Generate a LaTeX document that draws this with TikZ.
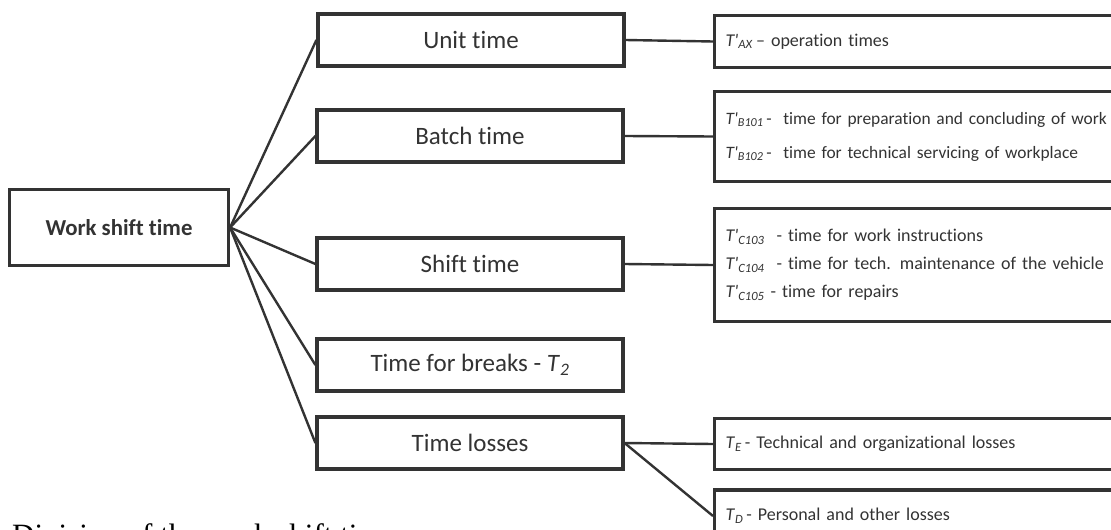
\documentclass[tikz,border=0pt]{standalone}
\usepackage{fontspec}
\setmainfont{Liberation Serif}
\newfontfamily\cf{Carlito}[Ligatures=NoCommon]
\definecolor{ink}{HTML}{333333}
\newcommand{\Tp}[1]{\textit{T'}\textsubscript{\textit{#1}}}
\newcommand{\Ts}[1]{\textit{T}\textsubscript{\textit{#1}}}
\begin{document}
\begin{tikzpicture}[x=1pt,y=-1pt,
  box/.style={draw=ink, line width=3.2pt, fill=white, inner sep=0pt, text=ink},
  mid/.style={box, minimum width=306pt, minimum height=52pt,
    font=\cf\fontsize{25}{29}\selectfont},
  leaf/.style={box, anchor=west, text width=400pt, align=left,
    inner xsep=11pt, font=\cf\fontsize{18}{28}\selectfont},
  link/.style={draw=ink, line width=2.4pt}]
\useasboundingbox (0,0) rectangle (1111,530);
\clip (0,0) rectangle (1111,530);

% root of the breakdown
\node[box, minimum width=219pt, minimum height=76pt,
  font=\cf\bfseries\fontsize{22.8}{27}\selectfont] (root) at (119,227.5) {Work shift time};

% components of the shift
\node[mid] (unit)   at (471,40)  {Unit time};
\node[mid] (batch)  at (470,136) {Batch time};
\node[mid] (shift)  at (470,264) {Shift time};
\node[mid] (breaks) at (470,365) {Time for breaks - \Ts{2}};
\node[mid] (losses) at (470,443) {Time losses};

% detailed items
\node[leaf, minimum height=52pt] (ax) at (713,41.5)
  {\Tp{AX}\,– operation times};
\node[leaf, minimum height=90pt, font=\cf\fontsize{17.4}{34}\selectfont] (b) at (713,136.5)
  {\Tp{B101}\,-\ \ time for preparation and concluding of work\\
   \Tp{B102}\,-\ \ time for technical servicing of workplace};
\node[leaf, minimum height=113pt] (c) at (713,265)
  {\Tp{C103}\ \ - time for work instructions\\
   \Tp{C104}\ \ - time for tech. maintenance of the vehicle\\
   \Tp{C105}\ - time for repairs};
\node[leaf, minimum height=51pt] (e) at (713,444)
  {\Ts{E}\,- Technical and organizational losses};
\node[leaf, minimum height=52pt] (d) at (713,516)
  {\Ts{D}\,- Personal and other losses\\[30pt]};

% connectors
\foreach \n in {unit,batch,shift,breaks,losses}
  \draw[link] (root.east) -- (\n.west);
\draw[link] (unit.east)   -- (ax.west);
\draw[link] (batch.east)  -- (b.west);
\draw[link] (shift.east)  -- (c.west);
\draw[link] (losses.east) -- (e.west);
\draw[link] (losses.east) -- (d.west);

% caption below the chart
\node[anchor=base west, inner sep=0pt, font=\fontsize{31}{36}\selectfont] (cap) at (12,545)
  {Division of the work shift time};
\end{tikzpicture}
\end{document}
